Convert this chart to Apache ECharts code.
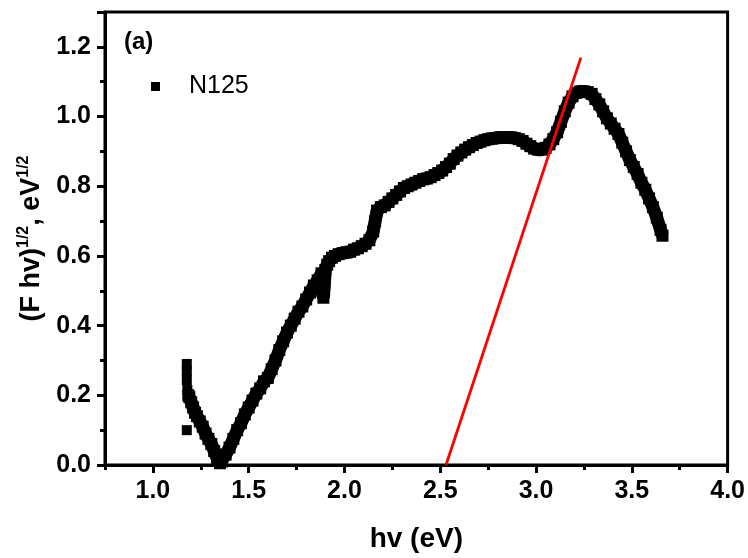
<!DOCTYPE html>
<html><head><meta charset="utf-8">
<script src="https://cdn.jsdelivr.net/npm/echarts@6/dist/echarts.min.js"></script>
<style>html,body{margin:0;padding:0;background:#fff}#c{width:748px;height:558px}</style>
</head><body><div id="c"></div>
<script>
// isolated squares near 1.18 eV
const isoX = [1.177, 1.177, 1.177, 1.180, 1.177];
const isoY = [0.290, 0.268, 0.243, 0.215, 0.100];
// main trace
const hv = [1.185,1.19,1.20,1.21,1.22,1.23,1.245,1.26,1.275,1.29,1.305,1.32,1.335,1.35,
 1.36,1.38,1.40,1.42,1.44,1.46,1.48,1.50,1.52,1.54,1.56,1.58,1.60,1.62,1.64,1.66,1.68,1.70,1.72,1.74,1.76,1.78,1.80,1.82,1.84,1.86,
 1.88,1.885,1.89,1.895,1.90,1.91,1.92,1.935,1.95,1.97,1.99,2.01,2.03,2.05,2.07,2.09,2.11,2.13,2.15,2.16,2.17,2.19,2.21,2.23,2.25,2.27,2.29,
 2.31,2.33,2.35,2.37,2.39,2.41,2.43,2.45,2.47,2.49,2.51,2.53,2.55,2.57,2.59,2.61,2.63,2.65,2.67,2.69,2.71,2.73,2.75,2.77,2.79,2.81,2.83,
 2.85,2.87,2.89,2.91,2.93,2.95,2.97,2.99,3.01,3.03,3.05,3.07,3.09,3.11,3.13,3.15,3.17,3.19,3.21,3.23,3.25,3.27,3.29,3.31,3.33,3.35,3.37,
 3.39,3.41,3.43,3.45,3.47,3.49,3.51,3.53,3.55,3.57,3.59,3.61,3.63,3.65,3.66];
const fhv = [0.20,0.195,0.18,0.165,0.15,0.14,0.125,0.11,0.09,0.075,0.06,0.04,0.02,0.005,
 0.01,0.03,0.05,0.075,0.10,0.12,0.145,0.165,0.185,0.205,0.22,0.24,0.25,0.275,0.30,0.33,0.355,0.38,0.40,0.42,0.44,0.455,0.475,0.495,0.515,0.53,
 0.55,0.50,0.48,0.52,0.56,0.575,0.585,0.595,0.60,0.605,0.608,0.61,0.612,0.618,0.622,0.628,0.635,0.645,0.67,0.70,0.73,0.74,0.745,0.755,0.765,0.775,0.785,
 0.795,0.80,0.805,0.81,0.815,0.82,0.822,0.826,0.832,0.838,0.845,0.855,0.865,0.878,0.888,0.897,0.905,0.912,0.918,0.924,0.928,0.932,0.935,0.937,0.938,0.94,0.94,
 0.94,0.94,0.938,0.935,0.93,0.922,0.915,0.908,0.905,0.905,0.91,0.92,0.935,0.955,0.985,1.015,1.04,1.058,1.068,1.072,1.072,1.07,1.065,1.05,1.035,1.015,0.995,
 0.98,0.965,0.95,0.925,0.90,0.875,0.855,0.835,0.81,0.79,0.765,0.74,0.71,0.675,0.658];
// red tangent line end points
const fitX = [2.53, 3.234];
const fitY = [0.0, 1.169];
const xMajor = [1.0, 1.5, 2.0, 2.5, 3.0, 3.5, 4.0];
const yMajor = [0.0, 0.2, 0.4, 0.6, 0.8, 1.0, 1.2];

const F = 'Liberation Sans';
const chart = echarts.init(document.getElementById('c'));
const pair = (xs, ys) => xs.map((x, i) => [x, ys[i]]);
const lblX = {fontFamily: F, fontWeight: 'bold', fontSize: 25, color: '#000', margin: 14};
chart.setOption({
  animation: false,
  textStyle: {fontFamily: F},
  grid: {left: 105, right: 19, top: 12, bottom: 91, show: true, borderColor: '#000', borderWidth: 3},
  legend: {
    data: [{name: 'N125', icon: 'rect'}],
    left: 146, top: 69, itemWidth: 9, itemHeight: 9, itemGap: 10,
    textStyle: {fontFamily: F, fontSize: 25, color: '#000', padding: [0, 0, 0, 24]}
  },
  graphic: [{type: 'text', left: 124, top: 30, style: {text: '(a)', font: 'bold 24px "Liberation Sans"', fill: '#000'}}],
  xAxis: [{
    type: 'value', min: 0.75, max: 4.0, interval: 0.25,
    name: 'hv (eV)', nameLocation: 'middle', nameGap: 60,
    nameTextStyle: {fontFamily: F, fontWeight: 'bold', fontSize: 28, color: '#000'},
    axisLine: {lineStyle: {color: '#000', width: 3}},
    axisTick: {inside: false, length: 5, lineStyle: {width: 3, color: '#000'}},
    splitLine: {show: false},
    axisLabel: Object.assign({}, lblX, {customValues: xMajor, formatter: v => v.toFixed(1)})
  }, {
    type: 'value', min: 0.75, max: 4.0, position: 'bottom',
    axisLine: {show: false},
    axisTick: {show: true, inside: false, length: 8, customValues: xMajor, lineStyle: {width: 3, color: '#000'}},
    axisLabel: {show: false}, splitLine: {show: false}
  }],
  yAxis: {
    type: 'value', min: 0, max: 1.3, interval: 0.2,
    name: '{b|(F hv)}{s|1/2}{b|, eV}{s|1/2}', nameLocation: 'middle', nameGap: 58, nameRotate: 90,
    nameTextStyle: {rich: {
      b: {fontFamily: F, fontWeight: 'bold', fontSize: 27, color: '#000', lineHeight: 30, verticalAlign: 'bottom'},
      s: {fontFamily: F, fontWeight: 'bold', fontSize: 16, color: '#000', lineHeight: 30, verticalAlign: 'top', padding: [0,0,12,0]}
    }},
    axisLine: {show: true, lineStyle: {color: '#000', width: 3}},
    axisTick: {inside: false, length: 8, lineStyle: {width: 3, color: '#000'}},
    minorTick: {show: true, splitNumber: 2, length: 5, lineStyle: {width: 3, color: '#000'}},
    splitLine: {show: false}, minorSplitLine: {show: false},
    axisLabel: {fontFamily: F, fontWeight: 'bold', fontSize: 25, color: '#000', margin: 14,
      customValues: yMajor, formatter: v => v.toFixed(1)}
  },
  series: [
    {name: 'N125', type: 'line', data: pair(hv, fhv), symbol: 'rect', symbolSize: 12, showSymbol: true,
     itemStyle: {color: '#000'}, lineStyle: {color: '#000', width: 13}, z: 3},
    {name: 'N125', type: 'scatter', data: pair(isoX, isoY), symbol: 'rect', symbolSize: 10,
     itemStyle: {color: '#000', opacity: 1}, z: 3},
    {name: 'fit', type: 'line', data: pair(fitX, fitY), symbol: 'none',
     lineStyle: {color: '#ff0000', width: 2.8}, z: 4}
  ]
});
</script></body></html>
